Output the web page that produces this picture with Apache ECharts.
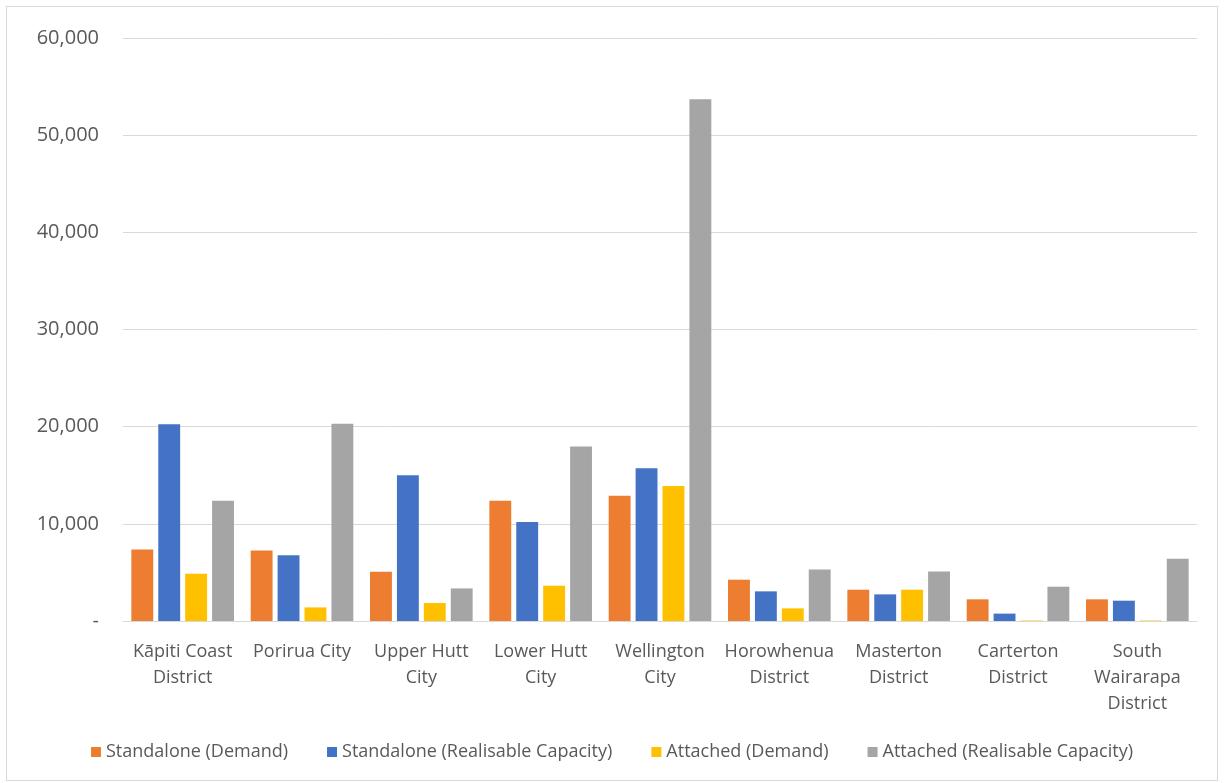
<!DOCTYPE html>
<html>
<head>
<meta charset="utf-8">
<script src="https://cdn.jsdelivr.net/npm/echarts@6/dist/echarts.min.js"></script>
<style>
  html, body { margin: 0; padding: 0; background: #fff; }
  #chart { position: absolute; left: 6px; top: 6px; width: 1212px; height: 775px; border: 1px solid #d9d9d9; box-sizing: border-box; }
</style>
</head>
<body>
<div id="chart"></div>
<script>
// 各区域（类目）
const categories = [
  'Kāpiti Coast\nDistrict', 'Porirua City', 'Upper Hutt\nCity', 'Lower Hutt\nCity',
  'Wellington\nCity', 'Horowhenua\nDistrict', 'Masterton\nDistrict',
  'Carterton\nDistrict', 'South\nWairarapa\nDistrict'
];

// 系列数值
const standaloneDemand = [7350, 7250, 5070, 12380, 12900, 4250, 3220, 2230, 2230];
const standaloneCapacity = [20250, 6770, 15000, 10200, 15730, 3050, 2740, 760, 2090];
const attachedDemand = [4860, 1400, 1850, 3630, 13900, 1300, 3220, 50, 50];
const attachedCapacity = [12380, 20300, 3350, 17950, 53700, 5300, 5100, 3530, 6400];

const seriesNames = [
  'Standalone (Demand)', 'Standalone (Realisable Capacity)',
  'Attached (Demand)', 'Attached (Realisable Capacity)'
];
const colors = ['#ed7d31', '#4472c4', '#ffc000', '#a5a5a5'];

const font = 'Open Sans, Noto Sans, sans-serif';
const chart = echarts.init(document.getElementById('chart'), null, { renderer: 'canvas' });

const dataSets = [standaloneDemand, standaloneCapacity, attachedDemand, attachedCapacity];

chart.setOption({
  animation: false,
  color: colors,
  grid: { left: 116, right: 20, top: 31, bottom: 159 },
  legend: {
    bottom: 14,
    left: 'center',
    itemWidth: 10,
    itemHeight: 10,
    itemGap: 39,
    icon: 'rect',
    textStyle: { color: '#595959', fontSize: 18, fontFamily: font },
    data: seriesNames
  },
  xAxis: {
    type: 'category',
    data: categories,
    axisLine: { lineStyle: { color: '#d9d9d9' } },
    axisTick: { show: false },
    axisLabel: {
      color: '#595959', fontSize: 18, fontFamily: font,
      lineHeight: 26, margin: 18, interval: 0
    }
  },
  yAxis: {
    type: 'value',
    min: 0,
    max: 60000,
    interval: 10000,
    axisLine: { show: false },
    axisTick: { show: false },
    splitLine: { lineStyle: { color: '#d9d9d9', width: 1 } },
    axisLabel: {
      color: '#595959', fontSize: 20, fontFamily: font, margin: 24,
      formatter: v => v === 0 ? '-' : v.toLocaleString('en-US')
    }
  },
  series: dataSets.map((d, i) => ({
    name: seriesNames[i],
    type: 'bar',
    data: d,
    barGap: '23%',
    barCategoryGap: '14%',
    itemStyle: { color: colors[i] }
  }))
});
</script>
</body>
</html>
